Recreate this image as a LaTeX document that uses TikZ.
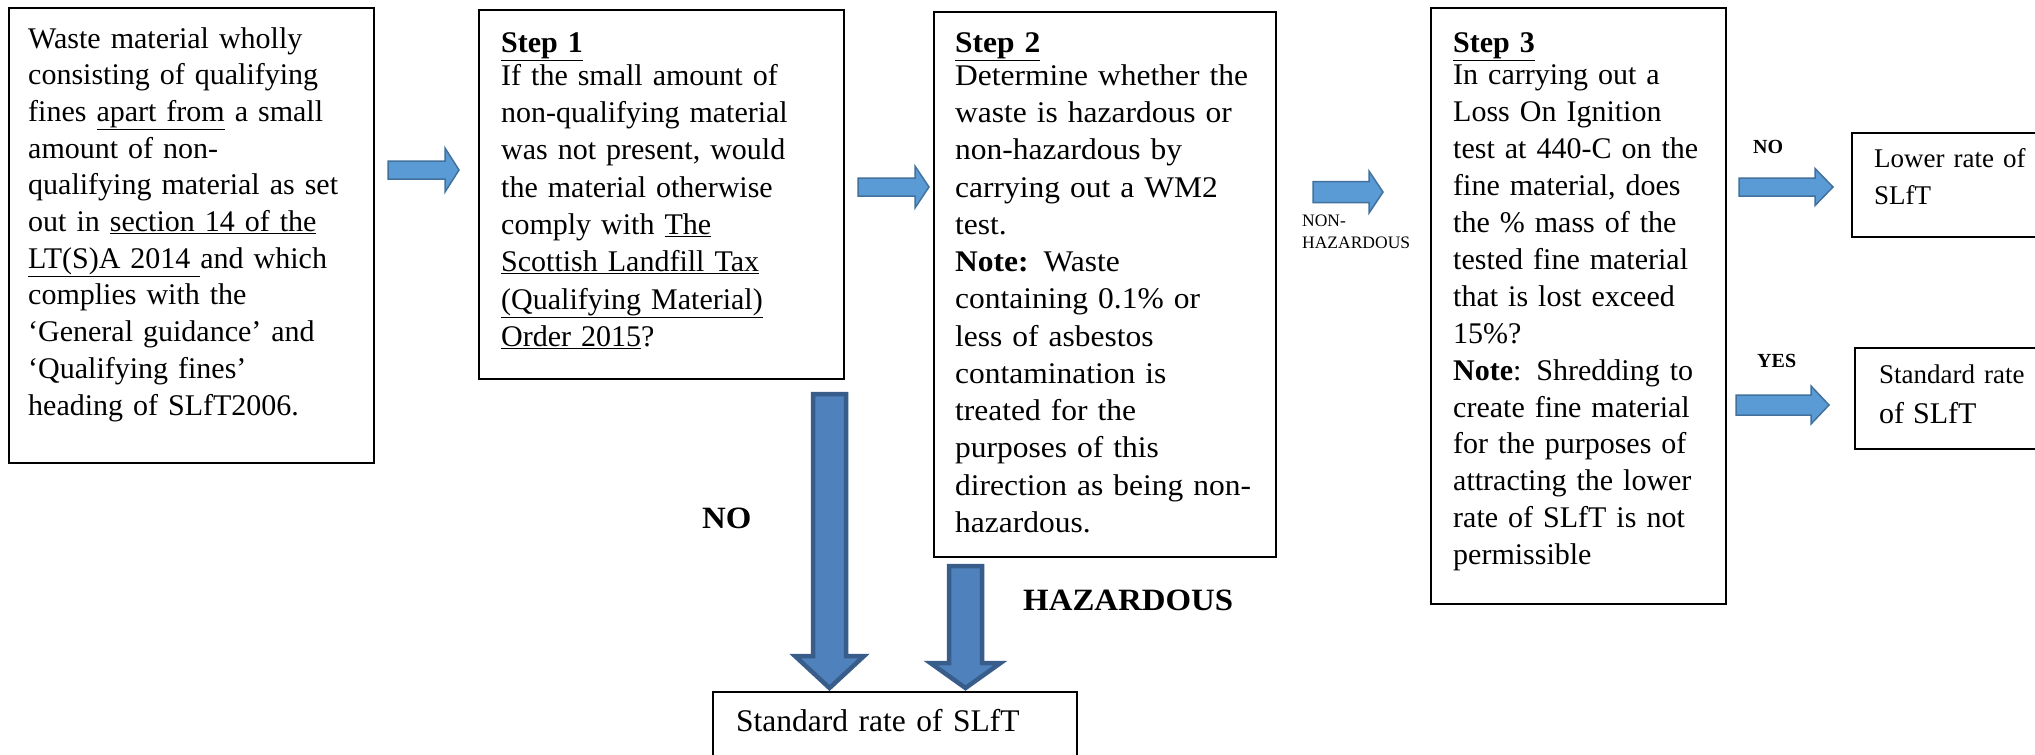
\documentclass[tikz,border=0pt]{standalone}
\usepackage{fontspec}
\setmainfont{Liberation Serif}
\newfontfamily\widefont[FakeStretch=1.05]{Liberation Serif}
\newfontfamily\lblfont[FakeStretch=1.06]{Liberation Serif}
\definecolor{hfill}{HTML}{5B9BD5}
\definecolor{hdraw}{HTML}{41719C}
\definecolor{vfill}{HTML}{4F81BD}
\definecolor{vdraw}{HTML}{385D8A}
% right block arrow: x0, y, x1, shaft half, head half, head length
\newcommand{\rblockarrow}[6]{%
  \draw[harrowstyle] (#1,#2-#4) -- (#3-#6,#2-#4) -- (#3-#6,#2-#5) -- (#3,#2)
    -- (#3-#6,#2+#5) -- (#3-#6,#2+#4) -- (#1,#2+#4) -- cycle;}
% down block arrow: x, y0, y1, shaft half, head half, head length
\newcommand{\dblockarrow}[6]{%
  \draw[varrowstyle] (#1-#4,#2) -- (#1-#4,#3-#6) -- (#1-#5,#3-#6) -- (#1,#3)
    -- (#1+#5,#3-#6) -- (#1+#4,#3-#6) -- (#1+#4,#2) -- cycle;}
\tikzset{
  box/.style={draw, rectangle, line width=2.2pt, inner sep=0pt},
  body/.style={anchor=base west, inner sep=0pt, align=left, text width=#1,
    font=\fontsize{30}{36.9}\selectfont},
  body/.default=340pt,
  lbl/.style={anchor=base west, inner sep=0pt, font=\lblfont\bfseries\fontsize{31}{36}\selectfont},
  smalllbl/.style={anchor=base west, inner sep=0pt, font=\bfseries\fontsize{20}{24}\selectfont},
  harrowstyle/.style={fill=hfill, draw=hdraw, line width=1.5pt, line join=miter},
  varrowstyle/.style={fill=vfill, draw=vdraw, line width=4.5pt, line join=miter},
}
\begin{document}
\begin{tikzpicture}[x=1pt,y=-1pt]
\useasboundingbox (0,0) rectangle (2035,755);
\fill[white] (0,0) rectangle (2035,755);

% boxes
\node[box, minimum width=365, minimum height=455] (b1) at (191.5,235.5) {};
\node[box, minimum width=365, minimum height=369] (b2) at (661.5,194.5) {};
\node[box, minimum width=342, minimum height=545] (b3) at (1105,284.5) {};
\node[box, minimum width=295, minimum height=596] (b4) at (1578.5,306) {};
\node[box, minimum width=200, minimum height=104] (lower) at (1952,185) {};
\node[box, minimum width=197, minimum height=101] (std) at (1953.5,398.5) {};
\node[box, minimum width=364, minimum height=90] (bottom) at (895,737) {};

% texts
\node[body, font=\fontsize{30}{36.7}\selectfont] (t1) at (28,48) {Waste material wholly\\
consisting of qualifying\\
fines \underline{apart from} a small\\
amount of non-\\
qualifying material as set\\
out in \underline{section 14 of the}\\
\underline{LT(S)A 2014 }and which\\
complies with the\\
‘General guidance’ and\\
‘Qualifying fines’\\
heading of SLfT2006.};

\node[body, font=\fontsize{30}{37.3}\selectfont] (t2) at (501,52) {\textbf{\underline{Step 1}}\\[-4pt]
If the small amount of\\
non-qualifying material\\
was not present, would\\
the material otherwise\\
comply with \underline{The}\\
\underline{Scottish Landfill Tax}\\
\underline{(Qualifying Material)}\\
\underline{Order 2015}?};

\node[body, font=\widefont\fontsize{30}{37.25}\selectfont] (t3) at (955,52) {\textbf{\underline{Step 2}}\\[-4pt]
Determine whether the\\
waste is hazardous or\\
non-hazardous by\\
carrying out a WM2\\
test.\\
\textbf{Note:} Waste\\
containing 0.1\% or\\
less of asbestos\\
contamination is\\
treated for the\\
purposes of this\\
direction as being non-\\
hazardous.};

\node[body, font=\fontsize{30}{36.9}\selectfont] (t4) at (1453,52) {\textbf{\underline{Step 3}}\\[-4pt]
In carrying out a\\
Loss On Ignition\\
test at 440-C on the\\
fine material, does\\
the \% mass of the\\
tested fine material\\
that is lost exceed\\
15\%?\\
\textbf{Note}: Shredding to\\
create fine material\\
for the purposes of\\
attracting the lower\\
rate of SLfT is not\\
permissible};

\node[body, font=\fontsize{27}{37}\selectfont] (t5) at (1874,167) {Lower rate of\\SLfT};
\node[body, font=\fontsize{27}{40}\selectfont] (t6) at (1879,383) {Standard rate\\{\fontsize{30}{36}\selectfont of SLfT}};
\node[body, font=\fontsize{31.5}{38}\selectfont] (t7) at (736,731) {Standard rate of SLfT};

% labels
\node[anchor=base west, inner sep=0pt, align=left, font=\fontsize{17.5}{22}\selectfont] (nh) at (1302,248) {NON-\\HAZARDOUS};
\node[smalllbl] (lno) at (1753,153) {NO};
\node[smalllbl] (lyes) at (1757,367) {YES};
\node[lbl] (bno) at (702,528) {NO};
\node[lbl] (bhaz) at (1023,610) {HAZARDOUS};

% arrows
\rblockarrow{388}{170}{459}{9}{22}{14}
\rblockarrow{858}{187}{929}{9}{21}{14}
\rblockarrow{1313}{192}{1383}{10.5}{21}{14}
\rblockarrow{1739}{187}{1833}{9}{18.5}{18}
\rblockarrow{1736}{405}{1829}{10}{19}{18}
\dblockarrow{829.5}{394}{688}{16.5}{34.5}{32}
\dblockarrow{965.5}{566}{688}{16.5}{35}{25}
\end{tikzpicture}
\end{document}
